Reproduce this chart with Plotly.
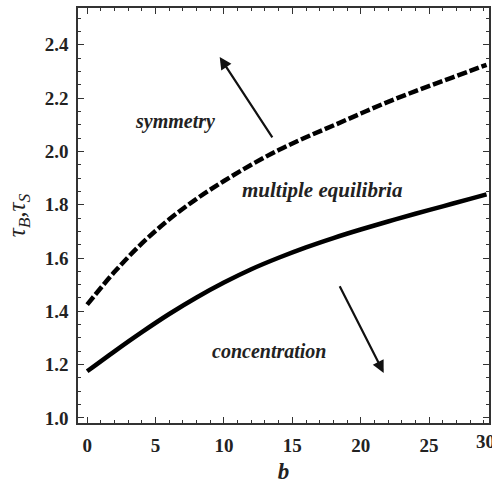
import plotly.graph_objects as go

# Data
b_vals = [0, 2, 4, 6, 8, 10, 12, 14, 16, 18, 20, 22, 24, 26, 28, 29.2]
tau_sym = [1.425, 1.548, 1.655, 1.745, 1.822, 1.889, 1.950, 2.005, 2.053, 2.097, 2.142, 2.186, 2.226, 2.264, 2.302, 2.325]
tau_conc = [1.175, 1.250, 1.322, 1.390, 1.452, 1.508, 1.558, 1.601, 1.640, 1.675, 1.707, 1.737, 1.766, 1.794, 1.822, 1.839]

x_ticks = [0, 5, 10, 15, 20, 25, 30]
y_ticks = [1.0, 1.2, 1.4, 1.6, 1.8, 2.0, 2.2, 2.4]

labels = ["symmetry", "multiple equilibria", "concentration"]
label_x = [6.42, 17.17, 13.3]
label_y = [2.112, 1.856, 1.25]
label_size = [20, 21, 20]

# arrows: (tail x, tail y, head x, head y)
arrow_tail_x = [13.61, 18.41]
arrow_tail_y = [2.047, 1.50]
arrow_head_x = [9.69, 21.68]
arrow_head_y = [2.354, 1.169]

X_RANGE = [-0.67, 29.38]
Y_RANGE = [0.981, 2.538]

FONT = "Liberation Serif"
INK = "#222"

fig = go.Figure()
fig.add_trace(go.Scatter(x=b_vals, y=tau_sym, mode="lines", line_shape="spline",
                         line=dict(color="black", width=4.5, dash="10px,3px"), showlegend=False))
fig.add_trace(go.Scatter(x=b_vals, y=tau_conc, mode="lines", line_shape="spline",
                         line=dict(color="black", width=4.5), showlegend=False))

for t, x, y, s in zip(labels, label_x, label_y, label_size):
    fig.add_annotation(x=x, y=y, text=t, showarrow=False,
                       font=dict(family=FONT, size=s, color=INK, weight="bold", style="italic"))

for tx, ty, hx, hy in zip(arrow_tail_x, arrow_tail_y, arrow_head_x, arrow_head_y):
    fig.add_annotation(x=hx, y=hy, ax=tx, ay=ty, xref="x", yref="y", axref="x", ayref="y",
                       text="", showarrow=True, arrowhead=2, arrowsize=1.1, arrowwidth=2.2,
                       arrowcolor="#111", standoff=0, startstandoff=0)

tick_font = dict(family=FONT, size=19, color=INK, weight="bold")

# tick labels beyond the visible range (the reference shows "30" clipped at the edge)
for v in x_ticks:
    if v > X_RANGE[1]:
        fig.add_annotation(x=(v - X_RANGE[0]) / (X_RANGE[1] - X_RANGE[0]), xref="paper",
                           y=0, yref="paper", yanchor="top", yshift=-6,
                           text=str(v), showarrow=False, font=tick_font)

axis_common = dict(showline=True, linecolor="#333", linewidth=1.5, mirror="ticks",
                   ticks="inside", ticklen=6, tickwidth=1.3, tickcolor="#333",
                   showgrid=False, zeroline=False, tickfont=tick_font)

fig.update_xaxes(range=X_RANGE, tickvals=x_ticks, ticktext=[str(v) for v in x_ticks],
                 minor=dict(dtick=1, ticks="inside", ticklen=3, tickwidth=1, tickcolor="#333"),
                 title=dict(text="b", font=dict(family=FONT, size=23, color=INK, weight="bold", style="italic"),
                            standoff=8),
                 ticklabelstandoff=4,
                 **axis_common)
fig.update_yaxes(range=Y_RANGE, tickvals=y_ticks, ticktext=["%.1f" % v for v in y_ticks],
                 minor=dict(dtick=0.05, tick0=1.0, ticks="inside", ticklen=3, tickwidth=1, tickcolor="#333"),
                 title=dict(text="τ<sub>B</sub>,τ<sub>S</sub>", font=dict(family=FONT, size=25, color=INK, style="italic"),
                            standoff=12),
                 ticklabelstandoff=4,
                 **axis_common)

fig.update_layout(width=492, height=484, margin=dict(l=78, r=1, t=8, b=61),
                  plot_bgcolor="white", paper_bgcolor="white")

fig.write_html("out.html")
